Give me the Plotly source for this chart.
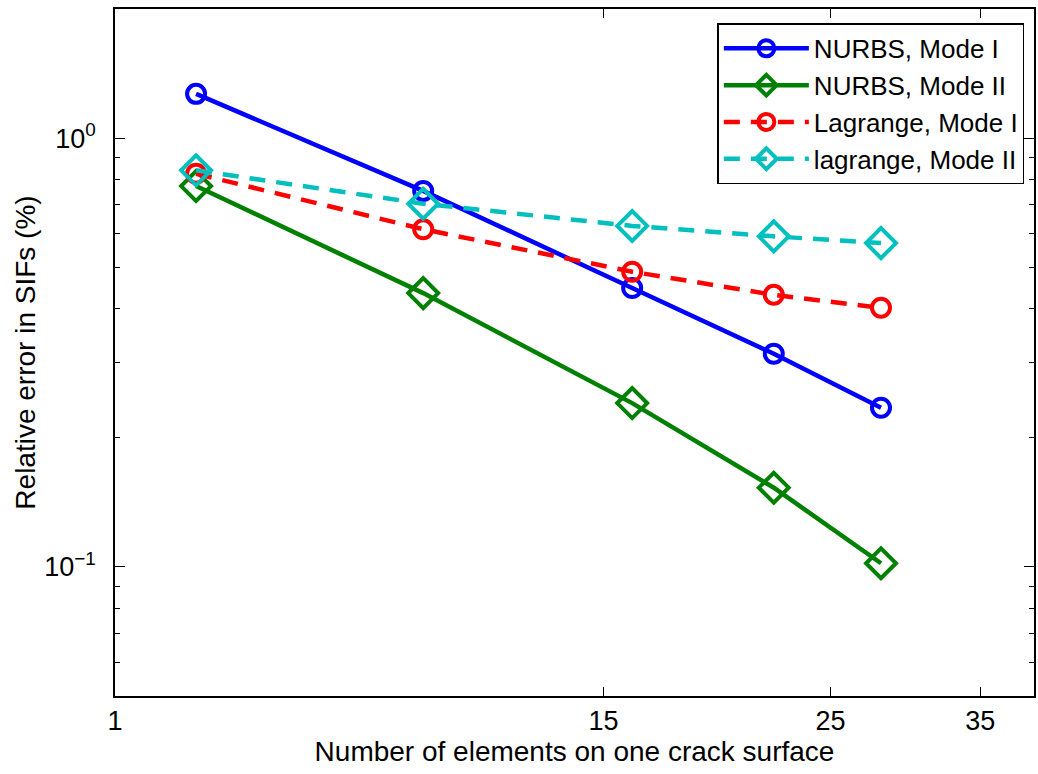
import plotly.graph_objects as go

# ---- data ----
elements = [6, 10, 16, 22, 28]
nurbs_mode1 = [1.268, 0.753, 0.447, 0.314, 0.235]
nurbs_mode2 = [0.773, 0.435, 0.241, 0.153, 0.102]
lagr_mode1 = [0.826, 0.613, 0.488, 0.431, 0.402]
lagr_mode2 = [0.841, 0.703, 0.624, 0.590, 0.569]

x_tickvals = [5, 15, 25, 35]
x_ticktext = ["1", "15", "25", "35"]
y_tickvals = [0.1, 1]
y_ticktext = ["10<sup>−1</sup>", "10<sup>0</sup>"]
y_minor = [0.05, 0.06, 0.07, 0.08, 0.09, 0.2, 0.3, 0.4, 0.5, 0.6, 0.7, 0.8, 0.9, 2]

FONT = "Liberation Sans, Arial, sans-serif"

fig = go.Figure()

series = [
    ("NURBS, Mode I", nurbs_mode1, "#0000FF", "solid", "circle-open", 18),
    ("NURBS, Mode II", nurbs_mode2, "#008000", "solid", "diamond-open", 23),
    ("Lagrange, Mode I", lagr_mode1, "#FF0000", "16px,11px", "circle-open", 18),
    ("lagrange, Mode II", lagr_mode2, "#00BFBF", "16px,11px", "diamond-open", 23),
]
for name, ys, color, dash, sym, size in series:
    fig.add_trace(go.Scatter(
        x=elements, y=ys, name=name, mode="lines+markers",
        line=dict(color=color, width=4.5, dash=dash),
        marker=dict(symbol=sym, size=size, color=color, line=dict(color=color, width=4)),
    ))

fig.update_layout(
    width=1038, height=774,
    margin=dict(l=115, r=2, t=9, b=78),
    paper_bgcolor="white", plot_bgcolor="white",
    font=dict(family=FONT, size=27, color="black"),
    showlegend=True,
    legend=dict(
        x=0.9895, y=0.979, xanchor="right", yanchor="top",
        bgcolor="white", bordercolor="black", borderwidth=1.5,
        font=dict(family=FONT, size=26, color="black"),
        itemwidth=85, tracegroupgap=0,
    ),
)

fig.update_xaxes(
    type="log", range=[0.69897, 1.5966],
    tickvals=x_tickvals, ticktext=x_ticktext,
    ticks="inside", ticklen=9, tickwidth=1.2, tickcolor="black",
    showline=True, linecolor="black", linewidth=1.5, mirror="ticks",
    showgrid=False, zeroline=False,
    title=dict(text="Number of elements on one crack surface", font=dict(family=FONT, size=28), standoff=4),
    tickfont=dict(family=FONT, size=27),
)
fig.update_yaxes(
    type="log", range=[-1.30103, 0.30103],
    tickvals=y_tickvals, ticktext=y_ticktext,
    ticks="inside", ticklen=10, tickwidth=1.2, tickcolor="black",
    minor=dict(tickvals=y_minor, ticks="inside", ticklen=5, tickwidth=1.2, tickcolor="black", showgrid=False),
    showline=True, linecolor="black", linewidth=1.5, mirror="ticks",
    showgrid=False, zeroline=False,
    ticklabelstandoff=12,
    title=dict(text="Relative error in SIFs (%)", font=dict(family=FONT, size=28), standoff=0),
    tickfont=dict(family=FONT, size=27),
)

fig.write_html("out.html")
